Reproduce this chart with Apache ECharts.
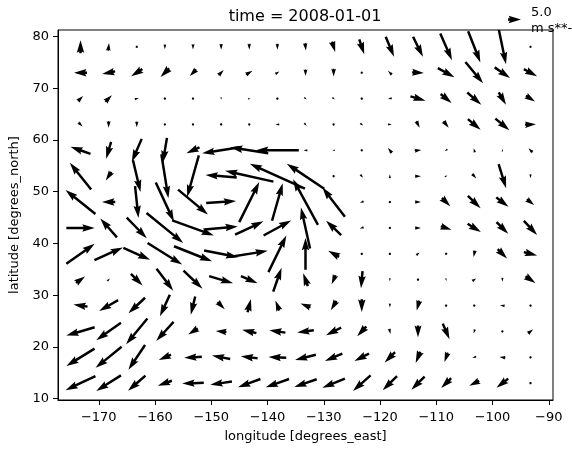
<!DOCTYPE html>
<html>
<head>
<meta charset="utf-8">
<script src="https://cdn.jsdelivr.net/npm/echarts@6/dist/echarts.min.js"></script>
<style>
  html, body { margin: 0; padding: 0; background: #fff; }
  #chart { width: 572px; height: 453px; }
</style>
</head>
<body>
<div id="chart"></div>
<script>
// grid of the wind field (lon columns, lat rows from north to south)
const lons = [-173.25, -168.25, -163.25, -158.25, -153.25, -148.25, -143.25, -138.25, -133.25,
  -128.25, -123.25, -118.25, -113.25, -108.25, -103.25, -98.25, -93.25]
const lats = [78, 73, 68, 63, 58, 53, 48, 43, 38, 33, 28, 23, 18, 13]

// u (eastward) wind, m s**-1, one row per latitude
const uWind = [
  [0, 0.3, -0.8, 0, 0, 0, 0, 0, 0.3, 1.2, 1.9, 3.2, 3.8, 4.5, 4.7, 2.8, 0],
  [-5, -5, -4.3, -3.3, -2.5, 2, 2.5, 1.5, 0, 0, 0, -1.5, 4.5, 6.4, 6.8, 5.9, 5.1],
  [2, 2.5, 1.5, 0.5, 0, 0, 1, -0.8, 1, 1, 0.3, -1.5, 5.8, 4.2, 5.4, 2.8, 3.5],
  [1.5, 0, 0, 0, 0.8, -0.5, 0.3, -1.5, 1, 0.2, 1.2, 1.5, 1.3, 2, 4.9, 5.4, 4.2],
  [-7.7, -1.9, -3.8, -1.6, -5, -14.6, -14.6, -16.5, -1.5, -1, -0.5, -1.5, 2.5, -1, -0.5, 0, -1.5],
  [-8.2, -2.2, 2.9, 2.7, -4.5, -12, -18.6, -21.2, -14.4, 0.5, 1, 0, 2.3, 1, 1.5, 2.9, 0],
  [-11.5, -5.1, 1.3, 7, 11.5, 11.5, 7.7, 4.1, -9.6, -8.7, -1.5, 0, 2.3, 3.2, 4.9, 4.7, 2.8],
  [10.9, -6.4, 7.7, 14.1, 16, 12.8, 10.9, 10.6, -3.5, -5.8, -1.5, 0.3, 2.3, 4.1, 5.1, 4.5, 5.1],
  [10.9, 10.9, 10.3, 13.3, 14.6, 13.1, 14.2, 6.9, 0, -4.2, 0.3, 0.2, 1.3, -0.5, -0.5, 3.6, 5.1],
  [3.5, 1, 4.5, 6.4, 7.3, 9.2, 6.4, 3.2, -1.8, -1.5, -0.6, 0, 0.5, 0.3, 1.5, 0, 3.8],
  [-5.4, -7.3, -6.4, -3.8, -1.7, 2.8, 1.3, -1.5, -3.8, -2.2, 0, 0, -1, -0.8, 0.2, -1.8, 0.2],
  [-10.9, -9.5, -8.2, -6.7, -3.7, -4.1, -5.5, -6.2, -6.4, -5.8, -3.5, 0.5, 0, 2.6, -0.5, 0.8, 2],
  [-10.8, -10, -6.4, -4.7, -6.8, -7, -6.4, -6.8, -8, -6.7, -5.6, -4, -1.8, -1.3, -1.5, -2.3, 0.2],
  [-11.5, -9.5, -6.7, -5.4, -8.3, -8.3, -8.6, -9, -8.6, -8.7, -6.8, -5.5, -5.1, -3.8, -3.8, -4.5, 0.2],
]

// v (northward) wind, m s**-1
const vWind = [
  [5, 3, -0.5, -1.8, -2, -2.2, -2.3, -2.3, -2.8, -4, -5.8, -7.7, -7.7, -10.3, -12, -13.5, 0.3],
  [0, -1, -2.8, -3.3, -2.5, 2, 1.5, 1, -2.5, -3, -0.5, 1.5, -0.3, -3.5, -8.2, -4.1, -2.8],
  [2, 2.5, 0.5, 0.5, 0.5, -1, 0.3, 0, -0.8, -0.8, 0, -0.3, -1.7, -3.5, -4.7, -4.7, -2.2],
  [-1.5, -2.5, -2.2, -0.8, 0.5, 0, 0.3, 0, -1, -0.2, -0.8, 0, -2.5, -2.5, -4.1, -4.5, 0.2],
  [2.7, -6.5, -8.8, -9.6, -2.3, -2.3, 2.3, 0, 0, 0, 0.3, 2, 0.3, -0.8, 1.5, 1, 1.5],
  [10.3, -3.3, -12.2, -16.9, -16, 1, 4.2, 9.6, 9.6, 0.5, -1.2, 1.5, 0, 0.5, -1.8, -9.2, -1.5],
  [9.2, 0, -12.2, -15.1, -9.6, 0.8, 15.4, 14.4, 17.6, 11.3, -0.5, 0.5, 0, -3.2, -4.7, -3.6, -2.2],
  [0, 7.3, -7.9, -11.5, -5.8, 1.2, 5.1, 5.8, 15.8, 5.5, -0.5, 0.8, 0, -1.3, -3.2, -4.5, -5.4],
  [7.7, 4.9, -4.6, -8.3, -5.8, -2.6, 2.3, 14.1, 12.2, 2.3, 0, 0, 1, 0.3, -2.5, -3.6, -1.3],
  [2.5, 1, -4.5, -8.5, -6.9, -2.7, -2.8, 9.2, 4.9, -3.5, -6.5, -1.2, 0, -1, 1, -1.5, -2.6],
  [0.8, -4.2, -6, -8.3, -7, -2.8, 5.1, 3.8, 1.5, -3.6, -4.9, -1.5, -3.8, 0, 0, 0.3, 0],
  [-3.2, -6.7, -9.9, -7.3, -2.3, 0.4, 1.3, 0.9, -0.9, -3, -3.8, -2, -4.5, -6, -1.5, -0.5, 1.5],
  [-6.7, -8.1, -9.5, -2, -0.4, 1.3, 0.8, 0.3, -2, -2.8, -2.8, -4, -4.3, -3.6, -0.5, 0.3, 0],
  [-5.4, -6, -5.8, -1.9, -0.3, -1.3, -3.2, -3.2, -3, -3.5, -6, -5.5, -5.1, -3.8, -1.9, -3.5, 0],
]

const lonTicks = [-170, -160, -150, -140, -130, -120, -110, -100, -90]
const latTicks = [10, 20, 30, 40, 50, 60, 70, 80]
const keySpeed = 5.0
const timeLabel = '2008-01-01'

// quiver look (like matplotlib defaults)
const pxPerUnit = 2.6   // arrow length per m/s
const shaftW = 2.47     // shaft width, px
const FONT = 'DejaVu Sans'

// arrow polygon along +x, centred on 0 (pivot middle)
function arrowShape(lenPx) {
  const L = lenPx / shaftW
  let pts
  if (L < 1) {
    pts = []
    for (let i = 0; i < 6; i++) {
      const a = i * Math.PI / 3
      pts.push([Math.cos(a) * 0.5, Math.sin(a) * 0.5])
    }
    return pts.map(p => [p[0] * shaftW, p[1] * shaftW])
  }
  if (L < 5) {
    const s = L / 5
    pts = [[0, 0.5], [0.5, 0.5], [0, 1.5], [5, 0], [0, -1.5], [0.5, -0.5], [0, -0.5]]
      .map(p => [p[0] * s, p[1] * s])
  } else {
    pts = [[0, 0.5], [L - 4.5, 0.5], [L - 5, 1.5], [L, 0], [L - 5, -1.5], [L - 4.5, -0.5], [0, -0.5]]
  }
  return pts.map(p => [(p[0] - L / 2) * shaftW, p[1] * shaftW])
}

function placeArrow(cx, cy, u, v) {
  const len = Math.sqrt(u * u + v * v) * pxPerUnit
  const th = Math.atan2(-v, u)
  const c = Math.cos(th), s = Math.sin(th)
  return arrowShape(len).map(([x, y]) => [cx + x * c - y * s, cy + x * s + y * c])
}

const windData = []
lats.forEach((lat, i) => {
  lons.forEach((lon, j) => {
    windData.push([lon, lat, uWind[i][j], vWind[i][j]])
  })
})

const chart = echarts.init(document.getElementById('chart'), null, { renderer: 'canvas' })

const minusSign = (val) => String(val).replace('-', '\u2212')

const keyPts = placeArrow(0, 0, keySpeed, 0)

chart.setOption({
  animation: false,
  backgroundColor: '#fff',
  textStyle: { fontFamily: FONT },
  grid: {
    left: 58, right: 19, top: 30, bottom: 53,
    show: true, borderColor: '#000', borderWidth: 1,
    outerBoundsMode: 'none',
  },
  xAxis: {
    type: 'value',
    min: -177.25,
    max: -89.25,
    name: 'longitude [degrees_east]',
    nameLocation: 'middle',
    nameGap: 37,
    nameTextStyle: { color: '#000', fontSize: 13, fontFamily: FONT, verticalAlign: 'middle' },
    axisLine: { show: true, onZero: false, lineStyle: { color: '#000', width: 1 } },
    axisTick: { show: true, length: 5, customValues: lonTicks, lineStyle: { color: '#000', width: 1 } },
    axisLabel: { color: '#000', fontSize: 13, fontFamily: FONT, margin: 11, customValues: lonTicks, formatter: minusSign },
    splitLine: { show: false },
  },
  yAxis: {
    type: 'value',
    min: 9.75,
    max: 81.25,
    name: 'latitude [degrees_north]',
    nameLocation: 'middle',
    nameGap: 40,
    nameTextStyle: { color: '#000', fontSize: 13, fontFamily: FONT, verticalAlign: 'middle' },
    axisLine: { show: true, onZero: false, lineStyle: { color: '#000', width: 1 } },
    axisTick: { show: true, length: 5, customValues: latTicks, lineStyle: { color: '#000', width: 1 } },
    axisLabel: { color: '#000', fontSize: 13, fontFamily: FONT, margin: 9, customValues: latTicks, formatter: minusSign },
    splitLine: { show: false },
  },
  series: [
    {
      type: 'custom',
      clip: true,
      data: windData,
      renderItem: (params, api) => {
        const p = api.coord([api.value(0), api.value(1)])
        return {
          type: 'polygon',
          shape: { points: placeArrow(p[0], p[1], api.value(2), api.value(3)) },
          style: { fill: '#000' },
        }
      },
    },
  ],
  graphic: [
    {
      type: 'text',
      x: 305, y: 17,
      style: {
        text: 'time = ' + timeLabel,
        font: '16px "DejaVu Sans"',
        fill: '#000',
        align: 'center', verticalAlign: 'middle',
        textAlign: 'center', textVerticalAlign: 'middle',
      },
    },
    {
      type: 'polygon',
      x: 514.5, y: 19.5,
      shape: { points: keyPts },
      style: { fill: '#000' },
    },
    {
      type: 'text',
      x: 531, y: 5,
      style: {
        text: keySpeed.toFixed(1) + '\nm s**-1',
        font: '13px "DejaVu Sans"',
        lineHeight: 16,
        fill: '#000',
        align: 'left', verticalAlign: 'top',
        textAlign: 'left', textVerticalAlign: 'top',
      },
    },
  ],
})
</script>
</body>
</html>
